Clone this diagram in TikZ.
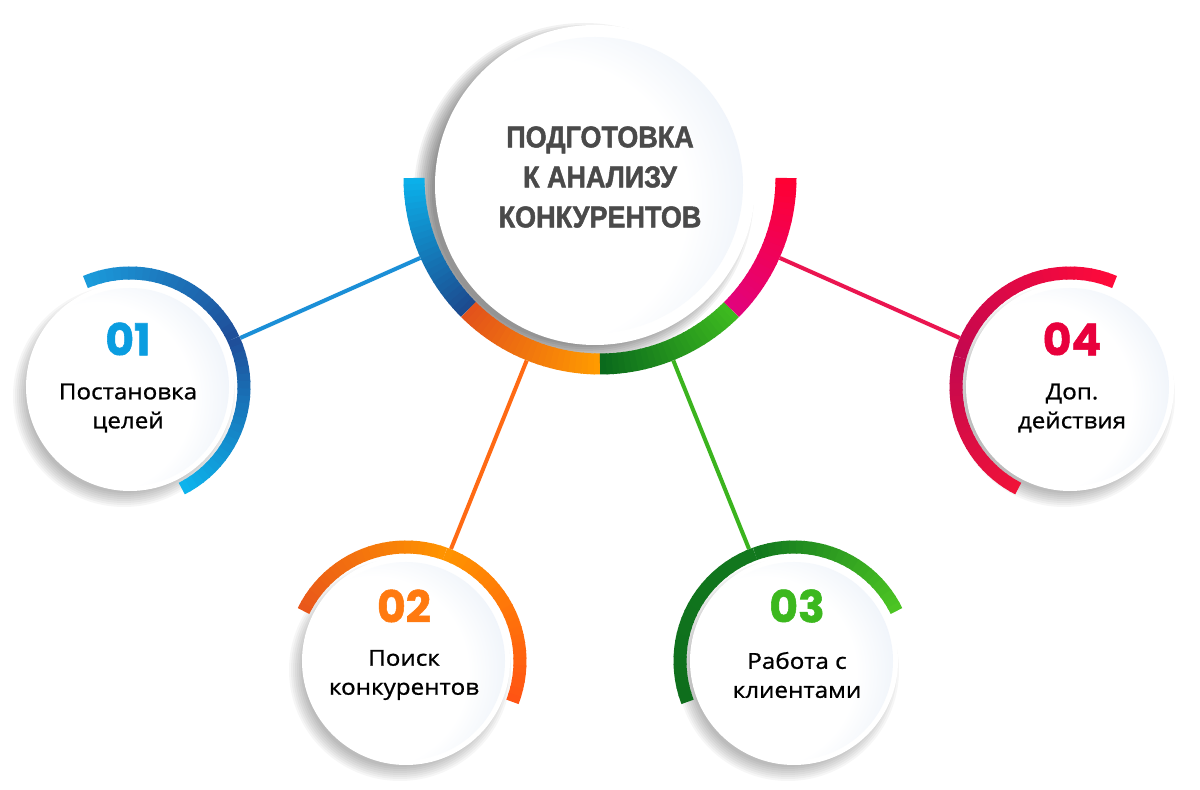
\documentclass[tikz,border=0pt]{standalone}
\usepackage{fontspec}
\setmainfont[FakeStretch=1.1, FakeBold=1]{Open Sans}
\newfontfamily\titlefont[FakeStretch=0.9, BoldFeatures={FakeBold=1.6}]{Liberation Sans}
\newfontfamily\numfont[BoldFeatures={FakeBold=1.2}]{Poppins}
\usetikzlibrary{positioning}

\definecolor{titlegray}{HTML}{4A4A4A}
\definecolor{discblue}{HTML}{D0DEF0}
% ring round the centre
\definecolor{ringblueA}{HTML}{0BB0EA}
\definecolor{ringblueB}{HTML}{1C4B8F}
\definecolor{ringorangeA}{HTML}{E3531B}
\definecolor{ringorangeB}{HTML}{FF9A00}
\definecolor{ringgreenA}{HTML}{0A6A1C}
\definecolor{ringgreenB}{HTML}{3DB91F}
\definecolor{ringredA}{HTML}{E2037C}
\definecolor{ringredB}{HTML}{FF0033}
% arcs round the steps
\definecolor{arc1A}{HTML}{1A9BDB}
\definecolor{arc1B}{HTML}{1F4F9A}
\definecolor{arc1C}{HTML}{0DB3EC}
\definecolor{arc2A}{HTML}{E9571A}
\definecolor{arc2B}{HTML}{FF9300}
\definecolor{arc2C}{HTML}{FF5414}
\definecolor{arc3A}{HTML}{0E6E1C}
\definecolor{arc3B}{HTML}{12781E}
\definecolor{arc3C}{HTML}{4CC423}
\definecolor{arc4A}{HTML}{FF0A3A}
\definecolor{arc4B}{HTML}{C4084F}
\definecolor{arc4C}{HTML}{EF1239}
% connectors and numbers
\definecolor{line1}{HTML}{1B8FD7}
\definecolor{line2}{HTML}{FF6A14}
\definecolor{line3}{HTML}{3BB41E}
\definecolor{line4}{HTML}{EA1550}
\definecolor{num1}{HTML}{0A9DE0}
\definecolor{num2}{HTML}{FF7A10}
\definecolor{num3}{HTML}{3CB81E}
\definecolor{num4}{HTML}{E8003C}

\pgfdeclareradialshading{discshade}{\pgfpoint{-12bp}{-4bp}}{color(0bp)=(white); color(24bp)=(white); color(52bp)=(discblue); color(80bp)=(discblue)}

% arc drawn in small pieces, colour going from #5 to #6
\newcommand{\gradarc}[6]{%
  \foreach \k in {0,...,23}{
    \pgfmathsetmacro\pct{100*\k/23}
    \pgfmathsetmacro\angA{#3+(#4-#3)*\k/24}
    \pgfmathsetmacro\angB{#3+(#4-#3)*min(\k+1.2,24)/24}
    \draw[#6!\pct!#5] (#1) ++(\angA:#2) arc[start angle=\angA, end angle=\angB, radius=#2];
  }}

\begin{document}
\begin{tikzpicture}[x=1pt, y=1pt,
    outer/.style={circle, minimum size=241pt, inner sep=0pt},
    numtext/.style={font=\numfont\bfseries\fontsize{44}{44}\selectfont},
    steptext/.style={align=center, font=\fontsize{22}{29}\selectfont, text=black}]
  \useasboundingbox (0,0) rectangle (1200,790);
  \fill[white] (0,0) rectangle (1200,790);

  % Outer borders of the circles
  \node[circle, minimum size=393pt, inner sep=0pt] (hub) at (600,612) {};
  \foreach \i/\x/\y in {1/130/403, 2/406/129, 3/794/129, 4/1070/403}
    \node[outer] (s\i) at (\x,\y) {};

  % Connectors
  \foreach \i in {1,...,4}
    \draw[line\i, line width=4pt] (hub) -- (s\i);

  % Centre disc and its shadow
  \foreach \r in {0,...,9}
    \fill[black, opacity=0.05] (584,597) circle[radius={(152+2*\r)*1pt}];
  \fill[white] (595,605) circle[radius=160pt];
  \shade[shading=discshade] (595,605) circle[radius=148pt];

  % Step discs and their shadows
  \foreach \x/\y in {130/403, 406/129, 794/129, 1070/403} {
    \foreach \r in {0,...,7}
      \fill[black, opacity=0.035] (\x-6,\y-9) circle[radius={(97+2*\r)*1pt}];
    \fill[white] (\x,\y) circle[radius=104pt];
    \shade[shading=discshade] (\x,\y) circle[radius=99pt];
  }

  % Ring round the centre
  \begin{scope}[line width=21pt]
    \gradarc{hub.center}{186pt}{180}{225}{ringblueA}{ringblueB}
    \gradarc{hub.center}{186pt}{225}{270}{ringorangeA}{ringorangeB}
    \gradarc{hub.center}{186pt}{270}{315}{ringgreenA}{ringgreenB}
    \gradarc{hub.center}{186pt}{315}{360}{ringredA}{ringredB}
  \end{scope}

  % Arcs round the steps
  \begin{scope}[line width=13pt]
    \gradarc{s1.center}{114pt}{113}{25}{arc1A}{arc1B}
    \gradarc{s1.center}{114pt}{25}{-63}{arc1B}{arc1C}
    \gradarc{s2.center}{114pt}{154}{70}{arc2A}{arc2B}
    \gradarc{s2.center}{114pt}{70}{-21}{arc2B}{arc2C}
    \gradarc{s3.center}{114pt}{201}{110}{arc3A}{arc3B}
    \gradarc{s3.center}{114pt}{110}{26}{arc3B}{arc3C}
    \gradarc{s4.center}{114pt}{67}{165}{arc4A}{arc4B}
    \gradarc{s4.center}{114pt}{165}{243}{arc4B}{arc4C}
  \end{scope}

  % Texts
  \node[font=\titlefont\bfseries\fontsize{30}{40}\selectfont, text=titlegray, align=center] (title) at (600,613) {ПОДГОТОВКА\\К АНАЛИЗУ\\КОНКУРЕНТОВ};
  \foreach \i/\x/\y/\txt in {1/128/451/{Постановка\\целей}, 2/404/184/{Поиск\\конкурентов}, 3/797/184/{Работа с\\клиентами}, 4/1072/451/{Доп.\\действия}} {
    \node[numtext, text=num\i] (n\i) at (\x,\y) {0\i};
    \node[steptext] (t\i) at (\x,\y-69) {\txt};
  }
\end{tikzpicture}
\end{document}
